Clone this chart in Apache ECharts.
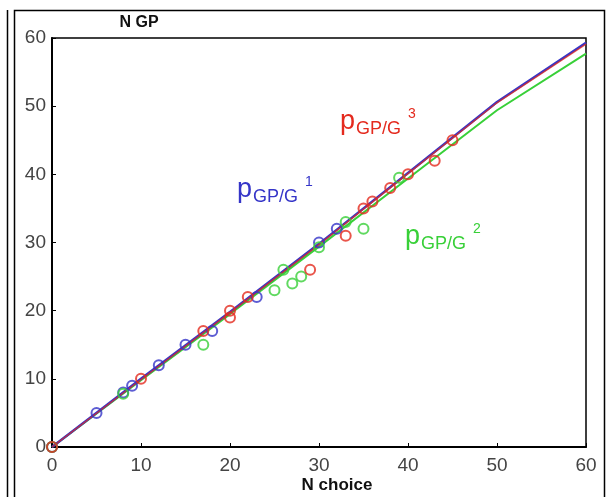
<!DOCTYPE html>
<html>
<head>
<meta charset="utf-8">
<script src="https://cdn.jsdelivr.net/npm/echarts@6/dist/echarts.min.js"></script>
<style>
  html, body { margin: 0; padding: 0; background: #fff; }
  #chart { width: 612px; height: 497px; }
</style>
</head>
<body>
<div id="chart"></div>
<script>
// axis ticks
const xTicks = [0, 10, 20, 30, 40, 50, 60]
const yTicks = [0, 10, 20, 30, 40, 50, 60]

// circles
const blueX = [0, 5, 8, 9, 12, 15, 18, 23, 30, 32]
const blueY = [0, 5, 8, 9, 12, 15, 17, 22, 30, 32]
const greenX = [0, 8, 17, 25, 26, 27, 28, 30, 33, 35, 39]
const greenY = [0, 7.8, 15, 23, 26, 24, 25, 29.3, 33, 32, 39.5]
const redX = [0, 10, 17, 20, 20, 22, 29, 33, 35, 36, 38, 40, 43, 45]
const redY = [0, 10, 17, 19, 20, 22, 26, 31, 35, 36, 38, 40, 42, 45]

// fitted lines
const lineX = [0, 10, 20, 30, 40, 50, 60]
const blueLine = [0, 10, 19.8, 29.8, 40.2, 50.6, 59.3]
const redLine = [0, 9.9, 19.7, 29.7, 40.1, 50.5, 59.1]
const greenLine = [0, 9.8, 19.5, 29.4, 39.4, 49.4, 57.7]

const BLUE = '#3535c8'
const GREEN = '#38d038'
const RED = '#e42a1e'
const FONT = 'Liberation Sans'

const pairs = (xs, ys) => xs.map((x, i) => [x, ys[i]])

const chart = echarts.init(document.getElementById('chart'))

// p_GP/G^k label built from three text pieces
const pLabel = (color, x, y, k) => [
  { type: 'text', x: x, y: y, style: { text: 'p', fill: color, font: '27px ' + FONT, align: 'left', verticalAlign: 'middle' } },
  { type: 'text', x: x + 16, y: y + 7, style: { text: 'GP/G', fill: color, font: '18px ' + FONT, align: 'left', verticalAlign: 'middle' } },
  { type: 'text', x: x + 68, y: y - 8, style: { text: k, fill: color, font: '14px ' + FONT, align: 'left', verticalAlign: 'middle' } }
]

const scatter = (xs, ys, color) => ({
  type: 'scatter',
  data: pairs(xs, ys),
  symbol: 'circle',
  symbolSize: 10,
  itemStyle: { color: 'rgba(0,0,0,0)', borderColor: color, borderWidth: 2 },
  z: 3
})

const line = (ys, color, width, opacity, z) => ({
  type: 'line',
  data: pairs(lineX, ys),
  showSymbol: false,
  lineStyle: { color: color, width: width, opacity: opacity },
  z: z
})

chart.setOption({
  animation: false,
  backgroundColor: '#fff',
  grid: {
    left: 52, right: 26, top: 38, bottom: 50,
    show: true, borderColor: '#000', borderWidth: 1.5
  },
  xAxis: {
    type: 'value', min: 0, max: 60, interval: 10,
    axisLine: { lineStyle: { color: '#000', width: 2 } },
    axisTick: { inside: true, length: 4, lineStyle: { color: '#000' } },
    splitLine: { show: false },
    axisLabel: {
      margin: 9, color: '#444', fontSize: 19, fontFamily: FONT,
      customValues: xTicks
    }
  },
  yAxis: {
    type: 'value', min: 0, max: 60, interval: 10,
    axisLine: { lineStyle: { color: '#000', width: 2 } },
    axisTick: { inside: true, length: 4, lineStyle: { color: '#000' } },
    splitLine: { show: false },
    axisLabel: {
      margin: 6, color: '#444', fontSize: 19, fontFamily: FONT,
      customValues: yTicks
    }
  },
  graphic: [
    { type: 'rect', shape: { x: 14.5, y: 10.5, width: 590, height: 500 }, style: { fill: 'none', stroke: '#000', lineWidth: 1.5 }, silent: true },
    { type: 'line', shape: { x1: 7.5, y1: 10, x2: 7.5, y2: 497 }, style: { stroke: '#000', lineWidth: 1.5 }, silent: true },
    { type: 'text', x: 139, y: 23, style: { text: 'N GP', fill: '#111', font: 'bold 16px ' + FONT, align: 'center', verticalAlign: 'middle' } },
    { type: 'text', x: 337, y: 485, style: { text: 'N choice', fill: '#111', font: 'bold 17px ' + FONT, align: 'center', verticalAlign: 'middle' } },
    ...pLabel(BLUE, 237, 190, '1'),
    ...pLabel(RED, 340, 122, '3'),
    ...pLabel(GREEN, 405, 237, '2')
  ],
  series: [
    line(greenLine, GREEN, 2, 1, 2),
    line(blueLine, BLUE, 2.5, 1, 2),
    line(redLine, RED, 1.5, 0.75, 2),
    scatter(blueX, blueY, BLUE),
    scatter(greenX, greenY, GREEN),
    scatter(redX, redY, RED)
  ]
})
</script>
</body>
</html>
